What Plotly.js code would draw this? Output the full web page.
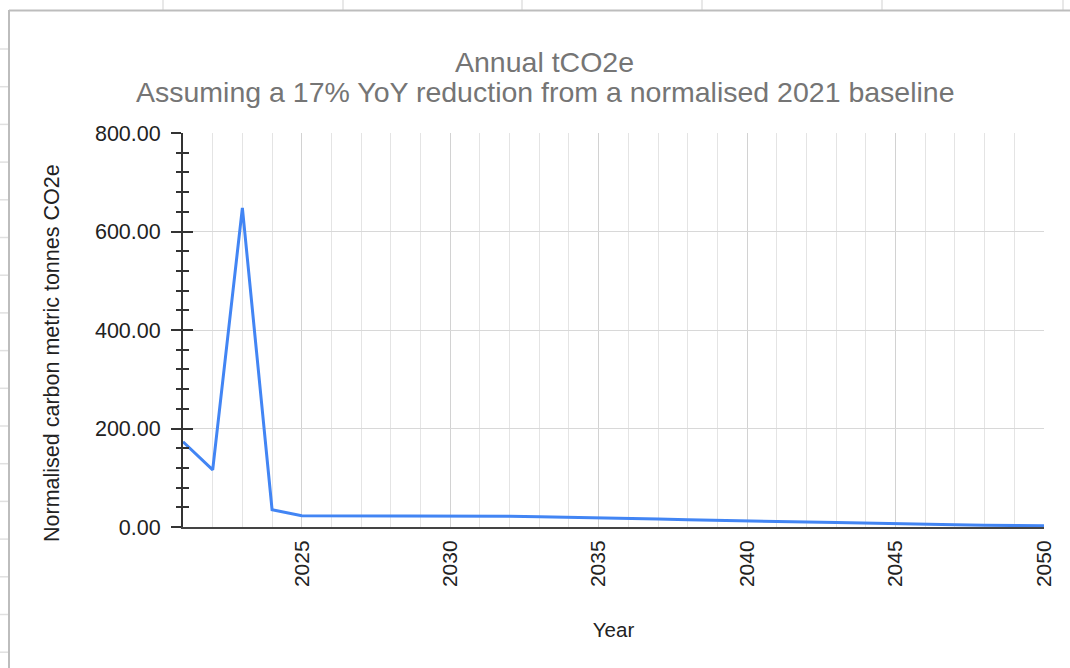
<!DOCTYPE html>
<html>
<head>
<meta charset="utf-8">
<script src="https://cdn.plot.ly/plotly-3.0.1.min.js"></script>
<style>html,body{margin:0;padding:0;background:#fff;}#chart{width:1070px;height:668px;}</style>
</head>
<body>
<div id="chart"></div>
<script>
// ---- data ----
const years = [2021,2022,2023,2024,2025,2026,2027,2028,2029,2030,
               2031,2032,2033,2034,2035,2036,2037,2038,2039,2040,
               2041,2042,2043,2044,2045,2046,2047,2048,2049,2050];
const tco2e = [173,116,648,35,23,23,23,23,23,23,
               22,22,21,20,19,17.5,16,14.5,13,12,
               11,10,9,7.5,6.5,5.5,4.5,3.5,3,2.5];
const titleText = 'Annual tCO2e';
const subtitleText = 'Assuming a 17% YoY reduction from a normalised 2021 baseline';
const xTitle = 'Year';
const yTitle = 'Normalised carbon metric tonnes CO2e';

// ---- layout helpers (pixel -> paper) ----
const W = 1070, H = 668;
const M = {l: 183, r: 26, t: 133, b: 141};
const PW = W - M.l - M.r, PH = H - M.t - M.b;
const px = x => (x - M.l) / PW;
const py = y => (H - M.b - y) / PH;

const FONT = 'Liberation Sans, Arial, Helvetica, sans-serif';

// spreadsheet chrome around the chart box
const shapes = [];
[163, 343, 522, 702, 882, 1063].forEach(x => shapes.push({type:'line', xref:'paper', yref:'paper',
  x0:px(x), x1:px(x), y0:py(0), y1:py(10), line:{color:'#e0e0e0', width:1.5}, layer:'below'}));
for (let y = 49; y < H; y += 37.7) shapes.push({type:'line', xref:'paper', yref:'paper',
  x0:px(0), x1:px(8), y0:py(y), y1:py(y), line:{color:'#e0e0e0', width:1.5}, layer:'below'});
shapes.push({type:'line', xref:'paper', yref:'paper', x0:px(9), x1:px(W+5), y0:py(10.5), y1:py(10.5),
  line:{color:'#bdbdbd', width:2}});
shapes.push({type:'line', xref:'paper', yref:'paper', x0:px(9), x1:px(9), y0:py(10), y1:py(H+5),
  line:{color:'#bdbdbd', width:2}});

const data = [
  {x: years, y: tco2e, type:'scatter', mode:'lines',
   line:{color:'#4285F4', width:3}, hoverinfo:'x+y', showlegend:false},
  {x: years, y: tco2e, type:'scatter', mode:'none', yaxis:'y2', hoverinfo:'skip', showlegend:false}
];

const layout = {
  width: W, height: H,
  margin: M,
  paper_bgcolor:'#ffffff', plot_bgcolor:'#ffffff',
  font:{family:FONT, color:'#222'},
  showlegend:false,
  xaxis:{
    range:[2021, 2050], tick0:2025, dtick:5, tickangle:-90,
    tickfont:{size:21, color:'#222'}, ticks:'', ticklabelstandoff:3,
    showgrid:true, gridcolor:'#d2d2d2', gridwidth:1,
    minor:{dtick:1, tick0:2021, showgrid:true, gridcolor:'#e4e4e4', gridwidth:1, ticks:''},
    showline:true, linecolor:'#444', linewidth:2, zeroline:false,
    title:{text:xTitle, font:{size:20.5, color:'#222'}, standoff:37},
    fixedrange:true
  },
  yaxis:{
    range:[0, 800], dtick:200, tickformat:'.2f',
    tickfont:{size:21.5, color:'#222'},
    ticks:'outside', ticklen:10, tickwidth:2, tickcolor:'#333', ticklabelstandoff:6,
    minor:{dtick:40, ticks:'outside', ticklen:5, tickwidth:2, tickcolor:'#333', showgrid:false},
    showgrid:true, gridcolor:'#d8d8d8', gridwidth:1,
    showline:true, linecolor:'#333', linewidth:2, zeroline:false,
    fixedrange:true
  },
  yaxis2:{
    overlaying:'y', side:'left', anchor:'x', range:[0, 800], dtick:200,
    ticks:'inside', ticklen:10, tickwidth:2, tickcolor:'#333',
    minor:{dtick:40, ticks:'inside', ticklen:6, tickwidth:2, tickcolor:'#333', showgrid:false},
    showticklabels:false, showgrid:false, showline:false, zeroline:false, fixedrange:true
  },
  annotations:[
    {text:titleText, xref:'paper', yref:'paper', x:px(544), y:py(62), xanchor:'center', yanchor:'middle',
     showarrow:false, font:{family:FONT, size:28.5, color:'#757575'}},
    {text:subtitleText, xref:'paper', yref:'paper', x:px(545), y:py(92), xanchor:'center', yanchor:'middle',
     showarrow:false, font:{family:FONT, size:28.5, color:'#757575'}},
    {text:yTitle, xref:'paper', yref:'paper', x:px(52), y:py(353), xanchor:'center', yanchor:'middle',
     textangle:-90, showarrow:false, font:{family:FONT, size:21.5, color:'#222'}}
  ],
  shapes: shapes
};

Plotly.newPlot('chart', data, layout, {displayModeBar:false, staticPlot:false});
</script>
</body>
</html>
